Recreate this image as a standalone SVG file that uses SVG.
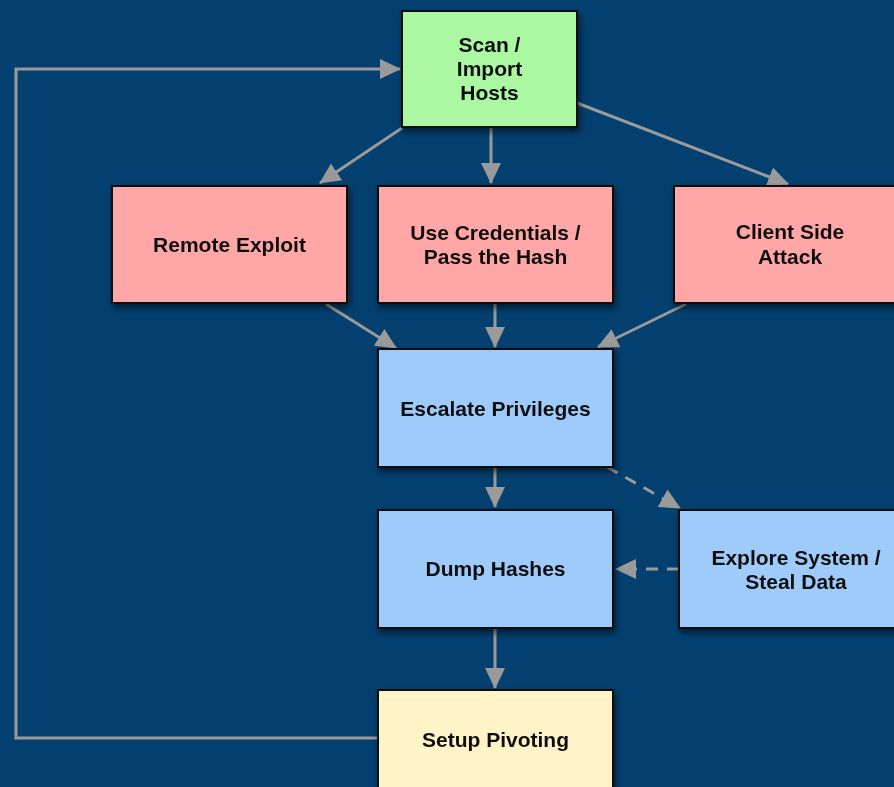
<svg xmlns="http://www.w3.org/2000/svg" width="894" height="787" viewBox="0 0 894 787">
<defs>
<style>
.box{stroke:#111;stroke-width:2}
.g{fill:#aaf8a2}.r{fill:#ffa6a6}.b{fill:#9fcbfb}.y{fill:#fff4c8}
.t{font-family:"Liberation Sans",Arial,sans-serif;font-weight:bold;font-size:21px;fill:#111;text-anchor:middle}
.c{fill:none;stroke:#9a9a9a;stroke-width:3}
.d{stroke-dasharray:12,9}
</style>
<filter id="sh" x="-10%" y="-10%" width="130%" height="130%">
<feDropShadow dx="2" dy="4" stdDeviation="3" flood-color="#000" flood-opacity="0.55"/>
</filter>
<marker id="a" markerUnits="userSpaceOnUse" markerWidth="22" markerHeight="22" refX="20" refY="11" orient="auto">
<path d="M0,1 L21,11 L0,21 Z" fill="#9a9a9a"/>
</marker>
</defs>
<rect width="894" height="787" fill="#033f6f"/>
<g id="connectors">
<path class="c" d="M491,127 L491,183" marker-end="url(#a)"/>
<path class="c" d="M402,128 L320,183" marker-end="url(#a)"/>
<path class="c" d="M577,103 L788,184" marker-end="url(#a)"/>
<path class="c" d="M326,304 L396,348" marker-end="url(#a)"/>
<path class="c" d="M495,304 L495,347" marker-end="url(#a)"/>
<path class="c" d="M686,304 L598,347" marker-end="url(#a)"/>
<path class="c" d="M495,467 L495,507" marker-end="url(#a)"/>
<path class="c d" d="M607,467 L680,508" marker-end="url(#a)"/>
<path class="c d" d="M679,569 L616,569" marker-end="url(#a)"/>
<path class="c" d="M495,628 L495,688" marker-end="url(#a)"/>
<path class="c" d="M378,738 L16,738 L16,69 L400,69" marker-end="url(#a)"/>
</g>
<g id="scan" filter="url(#sh)">
<rect class="box g" x="402" y="11" width="175" height="116"/>
<text class="t" x="489.5" y="52">Scan /</text>
<text class="t" x="489.5" y="76">Import</text>
<text class="t" x="489.5" y="100">Hosts</text>
</g>
<g id="remote" filter="url(#sh)">
<rect class="box r" x="112" y="186" width="235" height="117"/>
<text class="t" x="229.5" y="252">Remote Exploit</text>
</g>
<g id="creds" filter="url(#sh)">
<rect class="box r" x="378" y="186" width="235" height="117"/>
<text class="t" x="495.5" y="240">Use Credentials /</text>
<text class="t" x="495.5" y="264">Pass the Hash</text>
</g>
<g id="client" filter="url(#sh)">
<rect class="box r" x="674" y="186" width="235" height="117"/>
<text class="t" x="790" y="239">Client Side</text>
<text class="t" x="790" y="264">Attack</text>
</g>
<g id="escalate" filter="url(#sh)">
<rect class="box b" x="378" y="349" width="235" height="118"/>
<text class="t" x="495.5" y="416">Escalate Privileges</text>
</g>
<g id="dump" filter="url(#sh)">
<rect class="box b" x="378" y="510" width="235" height="118"/>
<text class="t" x="495.5" y="576">Dump Hashes</text>
</g>
<g id="explore" filter="url(#sh)">
<rect class="box b" x="679" y="510" width="235" height="118"/>
<text class="t" x="796" y="565">Explore System /</text>
<text class="t" x="796" y="589">Steal Data</text>
</g>
<g id="pivot" filter="url(#sh)">
<rect class="box y" x="378" y="690" width="235" height="118"/>
<text class="t" x="495.5" y="747">Setup Pivoting</text>
</g>
</svg>
